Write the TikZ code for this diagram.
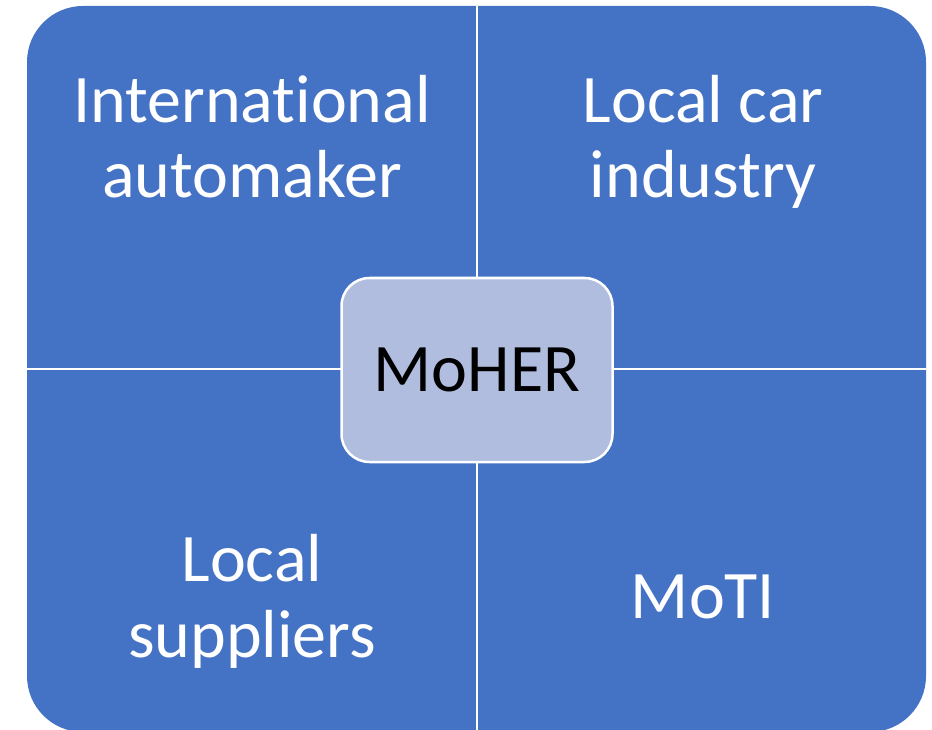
\documentclass[tikz,border=0pt]{standalone}
\usepackage{fontspec}
\setmainfont{Carlito}[RawFeature={-liga}]
\definecolor{tileblue}{RGB}{68,114,196}
\definecolor{hubfill}{RGB}{176,189,223}
\begin{document}
\begin{tikzpicture}[x=1pt,y=-1pt,
  tiletext/.style={text=white, inner sep=0pt, anchor=base,
    font=\fontsize{68}{75}\selectfont},
  hub/.style={draw=white, line width=2.5pt, fill=hubfill, text=black,
    rounded corners=28pt, minimum width=271pt, minimum height=184pt,
    inner sep=0pt, font=\fontsize{68}{75}\selectfont},
  divider/.style={white, line width=2.5pt}]
\useasboundingbox (0,0) rectangle (932,730);
% the four tiles share one rounded outline
\fill[tileblue, rounded corners=56pt] (27,6) rectangle (926,732);
% white gaps between the tiles
\coordinate (gtop) at (477,6);
\coordinate (gbottom) at (477,732);
\coordinate (gleft) at (27,369);
\coordinate (gright) at (926,369);
\draw[divider] (gtop) -- (gbottom);
\draw[divider] (gleft) -- (gright);
% central actor
\node[hub] (moher) at (477,370) {MoHER};
% tile labels (the kern keeps t and i as separate glyphs)
\node[tiletext] (intl) at (252,123)
  {\begin{tabular}[t]{@{}c@{}}Internat\kern0pt ional\\automaker\end{tabular}};
\node[tiletext] (carind) at (703,123)
  {\begin{tabular}[t]{@{}c@{}}Local car\\industry\end{tabular}};
\node[tiletext] (suppl) at (252,581)
  {\begin{tabular}[t]{@{}c@{}}Local\\[1pt]suppliers\end{tabular}};
\node[tiletext] (moti) at (703,618) {MoTI};
\end{tikzpicture}
\end{document}
